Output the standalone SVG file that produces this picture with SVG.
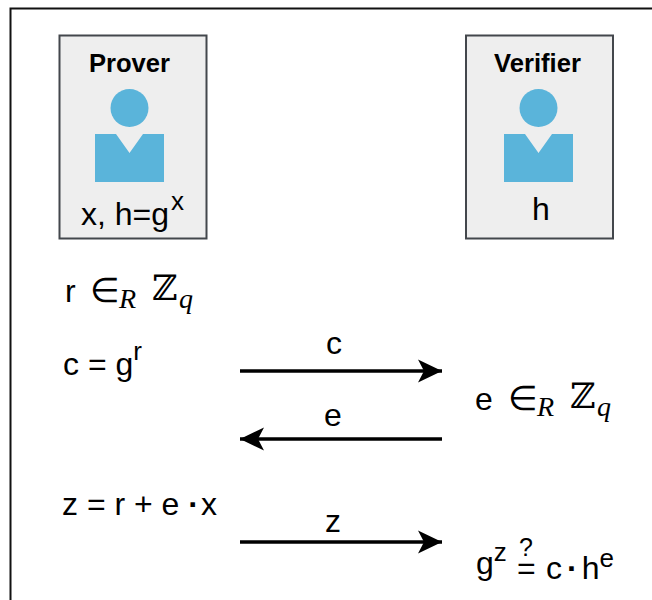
<svg xmlns="http://www.w3.org/2000/svg" width="652" height="600" viewBox="0 0 652 600">
<style>
text{font-family:"Liberation Sans",Arial,sans-serif;fill:#000}
.t{font-size:32px}
.l{font-size:32px;text-anchor:middle}
.b{font-size:25.6px;font-weight:bold;text-anchor:middle}
.s{font-size:26px}
.box{fill:#eeeeee;stroke:#43474c;stroke-width:2}
.p{fill:#5ab4da}
.m{font-family:"DejaVu Serif","Liberation Serif",serif}
.e{font-family:"DejaVu Sans","Liberation Serif",serif;font-weight:200}
.i{font-family:"Liberation Serif",serif;font-style:italic}
.c{fill:none;stroke:#000;stroke-width:3.6}
.d{font-weight:bold}
</style>
<defs>
<marker id="a" markerUnits="userSpaceOnUse" markerWidth="26" markerHeight="24" refX="24" refY="11.500" orient="auto-start-reverse" overflow="visible"><path d="M0 0L24 11.500L0 23L6 11.500Z" fill="#000"/></marker>
<g id="person"><circle cx="0" cy="-1" r="19" class="p"/><path d="M-34.500 25H-13.500L0 44L13.500 25H34.500V73H-34.500Z" class="p"/></g>
</defs>
<path d="M10.500 600V8.500H652" fill="none" stroke="#111" stroke-width="2"/>
<g id="prover">
<rect x="59.500" y="35.500" width="147" height="203" class="box"/>
<text class="b" x="129.500" y="72">Prover</text>
<use href="#person" x="129.500" y="109"/>
<text class="t" x="81" y="225">x, h=g<tspan class="s" dx="2" dy="-15">x</tspan></text>
</g>
<g id="verifier">
<rect x="466" y="35.500" width="147" height="203" class="box"/>
<text class="b" x="537.500" y="72">Verifier</text>
<use href="#person" x="538.500" y="109"/>
<text class="l" x="541" y="220">h</text>
</g>
<g id="prover-steps">
<text class="t" x="65" y="302">r</text>
<text class="e" x="90" y="302" font-size="34">∈</text>
<text class="i" x="119" y="308" font-size="28">R</text>
<text class="m" x="152" y="300" font-size="35">ℤ</text>
<text class="i" x="179" y="308" font-size="28">q</text>
<text class="t" x="63" y="375">c = g<tspan class="s" dy="-15">r</tspan></text>
<text class="t" x="62" y="515">z = r + e <tspan class="d">·</tspan><tspan dx="2">x</tspan></text>
</g>
<g id="verifier-steps">
<text class="t" x="475" y="410">e</text>
<text class="e" x="508" y="410" font-size="34">∈</text>
<text class="i" x="537" y="416" font-size="28">R</text>
<text class="m" x="570" y="408" font-size="35">ℤ</text>
<text class="i" x="597" y="416" font-size="28">q</text>
<text class="t" x="476" y="574">g<tspan class="s" dy="-13">z</tspan></text>
<text x="519" y="556" font-size="25">?</text>
<text class="t" x="517" y="579">=</text>
<text class="t" x="546" y="579">c<tspan class="d" dx="5">·</tspan><tspan dx="4">h</tspan><tspan class="s" dy="-12">e</tspan></text>
</g>
<g id="connectors">
<line class="c" x1="240" y1="371" x2="442" y2="371" marker-end="url(#a)"/>
<line class="c" x1="442" y1="439" x2="240" y2="439" marker-end="url(#a)"/>
<line class="c" x1="240" y1="542" x2="442" y2="542" marker-end="url(#a)"/>
<text class="l" x="334" y="354">c</text>
<text class="l" x="333" y="426">e</text>
<text class="l" x="333" y="532">z</text>
</g>
</svg>
